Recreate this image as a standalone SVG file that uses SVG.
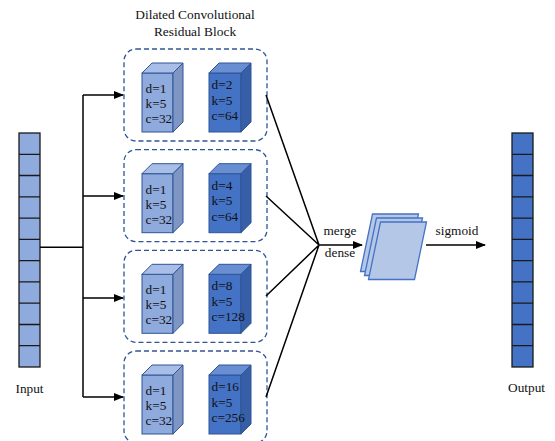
<svg xmlns="http://www.w3.org/2000/svg" width="555" height="441" viewBox="0 0 555 441">
<style>
text{font-family:"Liberation Serif","Times New Roman",serif;fill:#111}
.lbl{font-size:13.3px}
.ttl{font-size:13.4px;text-anchor:middle}
.cin{fill:#8FAADC;stroke:#1a1a1a;stroke-width:1.3}
.cout{fill:#4472C4;stroke:#1a1a1a;stroke-width:1.3}
.box{fill:none;stroke:#2F5597;stroke-width:1.3;stroke-dasharray:5 3}
.lf{fill:#8FAADC;stroke:#2F5597;stroke-width:1}
.lt{fill:#A9BEE6;stroke:#2F5597;stroke-width:1}
.ls{fill:#7F96C4;stroke:#2F5597;stroke-width:1}
.df{fill:#4472C4;stroke:#2F5597;stroke-width:1}
.dt{fill:#6A8ED2;stroke:#2F5597;stroke-width:1}
.ds{fill:#365FA8;stroke:#2F5597;stroke-width:1}
.ln{fill:none;stroke:#000;stroke-width:1.5}
.sheet{fill:#B4C7E7;stroke:#4472C4;stroke-width:1.3}
</style>
<defs>
<marker id="arr" markerWidth="10" markerHeight="8" refX="9" refY="4" orient="auto" markerUnits="userSpaceOnUse">
<path d="M0,0 L10,4 L0,8 Z" fill="#000"/>
</marker>
<g id="cubes">
<rect class="box" x="124" y="49" width="143" height="92" rx="12"/>
<rect class="lf" x="142" y="73" width="31" height="59"/>
<polygon class="lt" points="142,73 152,63 183,63 173,73"/>
<polygon class="ls" points="173,73 183,63 183,122 173,132"/>
<rect class="df" x="209" y="73" width="32" height="59"/>
<polygon class="dt" points="209,73 219,63 251,63 241,73"/>
<polygon class="ds" points="241,73 251,63 251,122 241,132"/>
<text class="lbl" x="145.5" y="93">d=1</text>
<text class="lbl" x="145.5" y="108">k=5</text>
<text class="lbl" x="145.5" y="123">c=32</text>
</g>
</defs>

<text class="ttl" x="195" y="19">Dilated Convolutional</text>
<text class="ttl" x="195" y="36">Residual Block</text>

<g id="input">
<rect class="cin" x="19" y="133" width="21" height="234"/>
<path d="M19,154.3H40M19,175.5H40M19,196.8H40M19,218.1H40M19,239.4H40M19,260.6H40M19,281.9H40M19,303.2H40M19,324.5H40M19,345.7H40" stroke="#1a1a1a" stroke-width="1.3"/>
<text class="lbl" x="29.5" y="393" text-anchor="middle">Input</text>
</g>

<g id="output">
<rect class="cout" x="512" y="133" width="21" height="234"/>
<path d="M512,154.3H533M512,175.5H533M512,196.8H533M512,218.1H533M512,239.4H533M512,260.6H533M512,281.9H533M512,303.2H533M512,324.5H533M512,345.7H533" stroke="#1a1a1a" stroke-width="1.3"/>
<text class="lbl" x="526.5" y="392" text-anchor="middle">Output</text>
</g>

<g id="block1">
<use href="#cubes"/>
<text class="lbl" x="211.5" y="89">d=2</text>
<text class="lbl" x="211.5" y="104.5">k=5</text>
<text class="lbl" x="211.5" y="120">c=64</text>
</g>
<g id="block2" transform="translate(0,100.7)">
<use href="#cubes"/>
<text class="lbl" x="211.5" y="89">d=4</text>
<text class="lbl" x="211.5" y="104.5">k=5</text>
<text class="lbl" x="211.5" y="120">c=64</text>
</g>
<g id="block3" transform="translate(0,201.3)">
<use href="#cubes"/>
<text class="lbl" x="211.5" y="89">d=8</text>
<text class="lbl" x="211.5" y="104.5">k=5</text>
<text class="lbl" x="211.5" y="120">c=128</text>
</g>
<g id="block4" transform="translate(0,302)">
<use href="#cubes"/>
<text class="lbl" x="211.5" y="89">d=16</text>
<text class="lbl" x="211.5" y="104.5">k=5</text>
<text class="lbl" x="211.5" y="120">c=256</text>
</g>

<g id="dense">
<polygon class="sheet" points="372.5,214 418.5,214 406.5,271.5 360.5,271.5"/>
<polygon class="sheet" points="376.5,218 422.5,218 410.5,275.5 364.5,275.5"/>
<polygon class="sheet" points="380.5,222 426.5,222 414.5,279.5 368.5,279.5"/>
</g>

<g id="connectors">
<path class="ln" d="M40,247.3H83"/>
<path class="ln" d="M83,95V397"/>
<path class="ln" d="M83,95H123" marker-end="url(#arr)"/>
<path class="ln" d="M83,196H123" marker-end="url(#arr)"/>
<path class="ln" d="M83,298H123" marker-end="url(#arr)"/>
<path class="ln" d="M83,397H123" marker-end="url(#arr)"/>
<path class="ln" d="M266,95L319,245M266,196L319,245M266,296L319,245M266,397L319,245" stroke-width="1.3"/>
<path class="ln" d="M319,245H362" marker-end="url(#arr)"/>
<path class="ln" d="M426,245H485" marker-end="url(#arr)"/>
<text class="lbl" x="340" y="235" text-anchor="middle">merge</text>
<text class="lbl" x="340" y="257" text-anchor="middle">dense</text>
<text class="lbl" x="457" y="235" text-anchor="middle">sigmoid</text>
</g>
</svg>
